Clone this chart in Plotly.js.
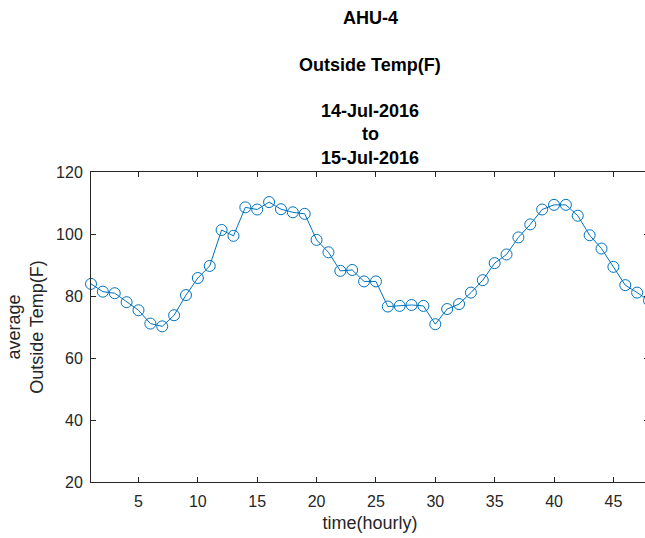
<!DOCTYPE html>
<html>
<head>
<meta charset="utf-8">
<script src="https://cdn.plot.ly/plotly-3.0.1.min.js"></script>
<style>
html,body{margin:0;padding:0;overflow:hidden;background:#fff;width:645px;height:538px;}
#chart{width:655px;height:538px;}
</style>
</head>
<body>
<div id="chart"></div>
<script>
const hours = [1,2,3,4,5,6,7,8,9,10,11,12,13,14,15,16,17,18,19,20,21,22,23,24,25,26,27,28,29,30,31,32,33,34,35,36,37,38,39,40,41,42,43,44,45,46,47,48];
const outsideTemp = [83.9,81.4,80.9,78.0,75.4,71.1,70.2,73.8,80.3,85.8,89.7,101.3,99.4,108.6,107.9,110.3,108.0,107.0,106.5,98.1,94.1,88.1,88.4,84.7,84.7,76.6,76.8,77.1,76.8,70.9,75.8,77.4,81.1,85.1,90.6,93.4,98.9,103.1,107.9,109.4,109.4,105.9,99.6,95.3,89.4,83.5,81.1,78.5];
const xTicks = [5,10,15,20,25,30,35,40,45];
const yTicks = [20,40,60,80,100,120];
const titleLines = ["AHU-4","Outside Temp(F)","14-Jul-2016","to","15-Jul-2016"];
const titleCenters = [18,65,111,134,158];

const axisColor = '#262626';
const font = 'Liberation Sans, Arial, sans-serif';
const plotTop = 172;

const annotations = titleLines.map((t,i)=>({
  text: '<b>'+t+'</b>', xref:'paper', yref:'paper', x:0.5, y:1,
  xanchor:'center', yanchor:'middle', yshift: plotTop - titleCenters[i],
  showarrow:false, font:{family:font, size:18, color:'#000'}
}));

const trace = {
  x: hours, y: outsideTemp, type:'scatter', mode:'lines+markers',
  line:{color:'#0072BD', width:1},
  marker:{symbol:'circle-open', size:11, color:'#0072BD', line:{width:1, color:'#0072BD'}},
  cliponaxis:false, hoverinfo:'skip'
};

const layout = {
  width:655, height:538,
  margin:{l:91, r:6, t:172, b:56},
  paper_bgcolor:'#fff', plot_bgcolor:'#fff',
  showlegend:false,
  font:{family:font, size:16, color:axisColor},
  xaxis:{
    range:[1,48], tickvals:xTicks, ticks:'inside', ticklen:5, tickcolor:axisColor,
    showline:true, linecolor:axisColor, linewidth:1, mirror:'ticks',
    showgrid:false, zeroline:false,
    tickfont:{family:font, size:16, color:axisColor},
    ticklabelstandoff:5,
    title:{text:'time(hourly)', font:{family:font, size:18, color:axisColor}, standoff:7}
  },
  yaxis:{
    range:[20,120], tickvals:yTicks, ticks:'inside', ticklen:5, tickcolor:axisColor,
    showline:true, linecolor:axisColor, linewidth:1, mirror:'ticks',
    showgrid:false, zeroline:false,
    tickfont:{family:font, size:16, color:axisColor},
    ticklabelstandoff:4,
    title:{text:'average<br>Outside Temp(F)', font:{family:font, size:18, color:axisColor}, standoff:7}
  },
  annotations: annotations
};

Plotly.newPlot('chart',[trace],layout,{staticPlot:true, displayModeBar:false});
</script>
</body>
</html>
